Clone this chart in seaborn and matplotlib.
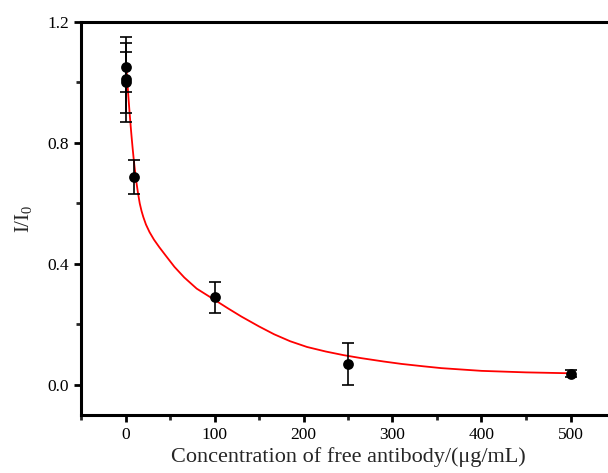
import matplotlib
matplotlib.use("Agg")
import matplotlib.pyplot as plt
from matplotlib.ticker import MultipleLocator
import seaborn as sns
import pandas as pd

# measured points
conc = [0, 0, 0, 10, 100, 250, 500]
ratio = [1.05, 1.01, 1.00, 0.687, 0.289, 0.068, 0.037]
err = [0.08, 0.14, 0.10, 0.055, 0.05, 0.07, 0.012]

# fitted curve
fit_x = [1, 2, 3, 4, 5, 6, 7, 8, 9, 10, 12, 14, 16, 18, 20, 23, 27, 32, 38, 45,
         55, 66, 80, 100, 115, 130, 150, 167, 185, 204, 225, 245, 265, 290, 310,
         335, 355, 380, 400, 450, 500]
fit_y = [1.05, 1.005, 0.963, 0.923, 0.885, 0.849, 0.815, 0.783, 0.753, 0.725,
         0.675, 0.635, 0.60, 0.575, 0.555, 0.53, 0.505, 0.48, 0.455, 0.428,
         0.39, 0.355, 0.318, 0.281, 0.253, 0.226, 0.193, 0.167, 0.144, 0.125,
         0.11, 0.098, 0.088, 0.077, 0.069, 0.061, 0.055, 0.05, 0.046, 0.041,
         0.038]

xticks = [0, 100, 200, 300, 400, 500]
yticks = [0.0, 0.4, 0.8, 1.2]

sns.set_style("ticks")
plt.rcParams["font.family"] = ["Liberation Serif", "DejaVu Serif"]
plt.rcParams["mathtext.fontset"] = "custom"
plt.rcParams["mathtext.rm"] = "Liberation Serif"
plt.rcParams["mathtext.it"] = "Liberation Serif:italic"

W, H = 608, 473
fig = plt.figure(figsize=(W / 100, H / 100), dpi=100)
ax = fig.add_axes([81 / W, (H - 415) / H, 534 / W, (415 - 22) / H])

pts = pd.DataFrame({"x": conc, "y": ratio})
fit = pd.DataFrame({"x": fit_x, "y": fit_y})

sns.lineplot(data=fit, x="x", y="y", ax=ax, color="#ff0000", linewidth=1.3,
             zorder=2, sort=True)
ax.errorbar(conc, ratio, yerr=err, fmt="none", ecolor="black", elinewidth=1.2,
            capsize=4, capthick=1.2, zorder=3)
sns.scatterplot(data=pts, x="x", y="y", ax=ax, color="black", s=60,
                edgecolor="black", linewidth=0, zorder=4)

ax.set_xlim(-50, 550)
ax.set_ylim(-0.1, 1.2)
ax.set_xticks(xticks)
ax.set_yticks(yticks)
ax.set_yticklabels([f"{v:.1f}" for v in yticks])
ax.xaxis.set_minor_locator(MultipleLocator(50))
ax.yaxis.set_minor_locator(MultipleLocator(0.2))

for side in ["left", "bottom", "top"]:
    ax.spines[side].set_linewidth(2.2)
    ax.spines[side].set_color("black")
ax.spines["right"].set_visible(False)

ax.tick_params(axis="both", which="major", direction="out", length=5, width=2,
               labelsize=12.5, colors="black", top=False, right=False)
ax.tick_params(axis="both", which="minor", direction="out", length=3.5, width=2,
               top=False, right=False)

ax.set_xlabel("Concentration of free antibody/(\u03bcg/mL)", fontsize=16,
              labelpad=3)
ax.set_ylabel(r"I/I$_\mathregular{0}$", fontsize=15, labelpad=10)

fig.savefig("out.png", dpi=100)
